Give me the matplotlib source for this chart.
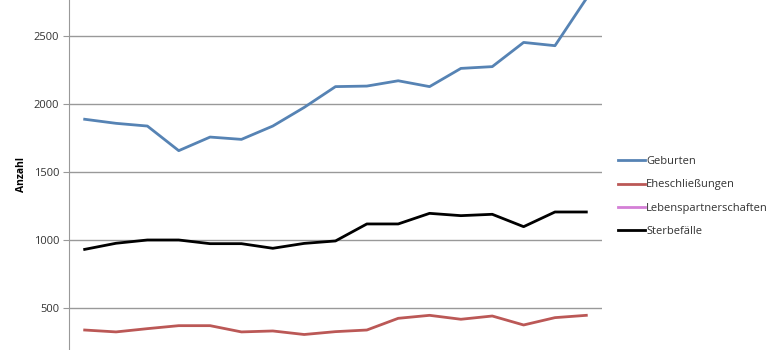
import matplotlib.pyplot as plt

years = [1995, 1996, 1997, 1998, 1999, 2000, 2001, 2002, 2003,
         2004, 2005, 2006, 2007, 2008, 2009, 2010, 2011]
geburten = [1888, 1858, 1838, 1657, 1757, 1740, 1838, 1975, 2128,
            2132, 2171, 2128, 2262, 2275, 2453, 2429, 2775]
ehe = [338, 324, 348, 370, 370, 324, 331, 305, 326,
       338, 424, 446, 417, 441, 375, 429, 446]
lebenspartner = [0, 0, 0, 0, 0, 0, 5, 10, 12,
                 14, 15, 16, 18, 20, 22, 25, 28]
sterbe = [931, 976, 1000, 1000, 973, 973, 939, 975, 993,
          1118, 1118, 1196, 1179, 1189, 1098, 1206, 1206]

plt.rcParams['font.family'] = ['Open Sans', 'DejaVu Sans']

fig = plt.figure(figsize=(7.8, 3.5), dpi=100)
ax = fig.add_axes([69 / 780, 0, 533 / 780, 1])

x = range(len(years))
ax.plot(x, geburten, color='#5683b4', lw=2.0, label='Geburten')
ax.plot(x, ehe, color='#bb5856', lw=2.0, label='Eheschließungen')
ax.plot(x, lebenspartner, color='#d47fd6', lw=2.0, label='Lebenspartnerschaften')
ax.plot(x, sterbe, color='black', lw=2.0, label='Sterbefälle')

ax.set_xlim(-0.5, len(years) - 0.5)
ax.set_ylim(191, 2765)
ax.set_yticks([500, 1000, 1500, 2000, 2500])
ax.set_xticks([])
ax.grid(axis='y', color='#999999', lw=1.0)
ax.set_axisbelow(True)
for s in ['top', 'right', 'bottom']:
    ax.spines[s].set_visible(False)
ax.spines['left'].set_color('#999999')
ax.tick_params(axis='y', length=4, color='#999999', labelsize=8, labelcolor='#333333', pad=3)
ax.set_ylabel('Anzahl', fontsize=7.5, fontweight='bold', labelpad=5)

leg = ax.legend(loc='center left', bbox_to_anchor=(1.012, 0.438), frameon=False,
                fontsize=8, handlelength=2.4, handletextpad=0.1, labelspacing=1.12)
for t in leg.get_texts():
    t.set_color('#333333')

fig.savefig('out.png', dpi=100)
